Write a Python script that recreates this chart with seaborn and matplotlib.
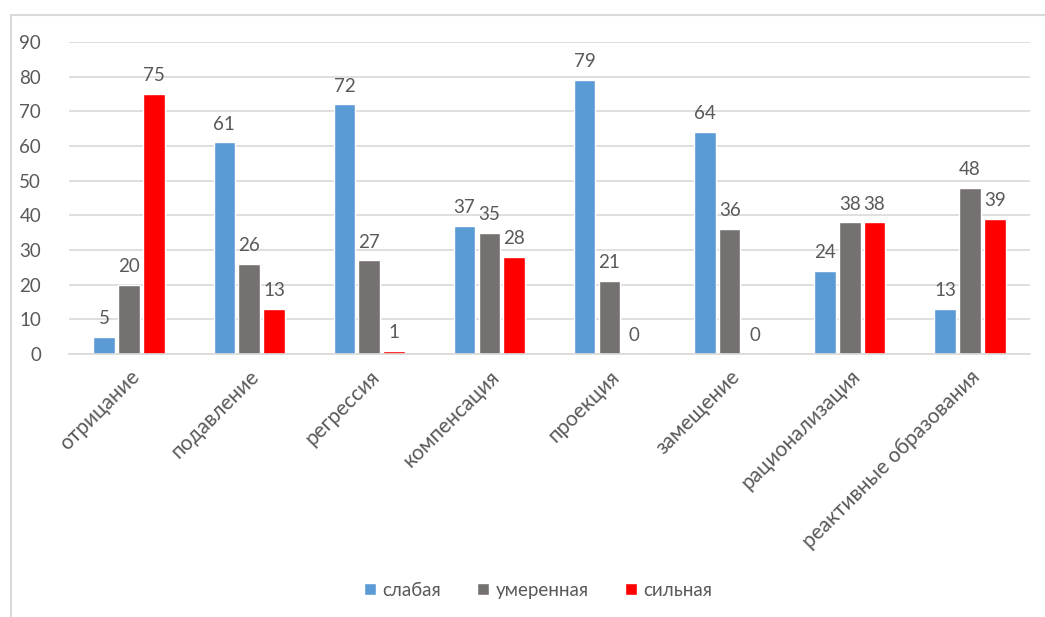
import pandas as pd
import numpy as np
import matplotlib.pyplot as plt
import matplotlib.lines as mlines
import seaborn as sns

#### Data
categories = ['отрицание', 'подавление', 'регрессия', 'компенсация', 'проекция',
              'замещение', 'рационализация', 'реактивные образования']
series = ['слабая', 'умеренная', 'сильная']
weak = [5, 61, 72, 37, 79, 64, 24, 13]
moderate = [20, 26, 27, 35, 21, 36, 38, 48]
strong = [75, 13, 1, 28, 0, 0, 38, 39]
yticks = [0, 10, 20, 30, 40, 50, 60, 70, 80, 90]
colors = ['#5B9BD5', '#767171', '#FF0000']

df = pd.DataFrame({
    'category': categories * 3,
    'level': [series[0]] * 8 + [series[1]] * 8 + [series[2]] * 8,
    'value': weak + moderate + strong,
})

sns.set_theme(style='white')
plt.rcParams['font.family'] = ['Lato', 'DejaVu Sans']
text_color = '#595959'

fig = plt.figure(figsize=(10.45, 6.17), dpi=100)
ax = fig.add_axes([0.066, 0.4263, 0.9196, 0.5057])

sns.barplot(data=df, x='category', y='value', hue='level', palette=colors,
            width=0.62, gap=0.13, ax=ax, saturation=1, legend=True)

for cont in ax.containers:
    ax.bar_label(cont, padding=7, fontsize=13.5, color=text_color)

ax.set_ylim(0, 90)
ax.set_yticks(yticks)
ax.set_xlim(-0.5, 7.5)
ax.yaxis.grid(True, color='#D9D9D9', linewidth=1.2)
ax.set_axisbelow(True)
for s in ['top', 'right', 'left']:
    ax.spines[s].set_visible(False)
ax.spines['bottom'].set_color('#D9D9D9')
ax.spines['bottom'].set_linewidth(1.2)
ax.set_xlabel('')
ax.set_ylabel('')
ax.tick_params(axis='y', labelsize=13.5, labelcolor=text_color, length=0, pad=20)
ax.tick_params(axis='x', labelsize=15, labelcolor=text_color, length=0, pad=9)
plt.setp(ax.get_xticklabels(), rotation=45, ha='right', rotation_mode='anchor')

ax.legend(loc='center', bbox_to_anchor=(0.515, 0.0437), bbox_transform=fig.transFigure,
          ncol=3, frameon=False, fontsize=13.5, labelcolor=text_color,
          handlelength=0.65, handleheight=0.65, handletextpad=0.35, columnspacing=1.9)

# outer frame (left and top edges)
fig.add_artist(mlines.Line2D([0.0105, 0.0105], [0, 0.976], transform=fig.transFigure,
                             color='#D9D9D9', linewidth=1.5))
fig.add_artist(mlines.Line2D([0.0105, 1.0], [0.976, 0.976], transform=fig.transFigure,
                             color='#D9D9D9', linewidth=1.5))

plt.savefig('out.png', dpi=100)
